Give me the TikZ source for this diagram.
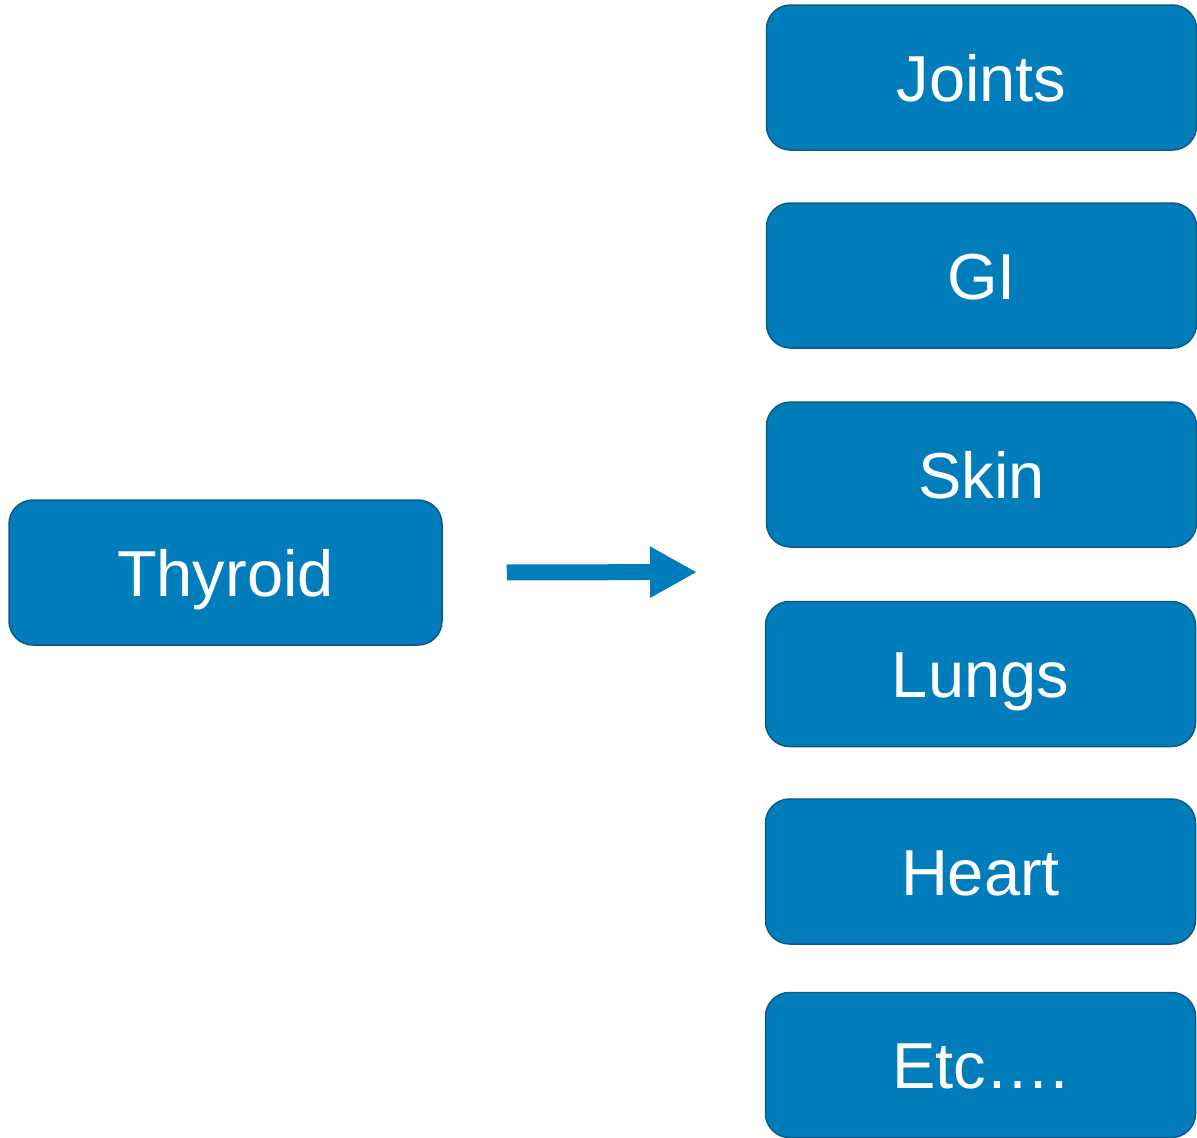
\documentclass[tikz,border=0pt]{standalone}
\usepackage{fontspec}
\setmainfont{Liberation Sans}
\usetikzlibrary{arrows.meta}
\definecolor{organblue}{HTML}{027DBC}
\definecolor{organedge}{HTML}{0E5A86}

\begin{document}
\begin{tikzpicture}[x=1pt,y=-1pt,every node/.style={rectangle,rounded corners=24pt,fill=organblue,draw=organedge,line width=1.5pt,text=white,font=\fontsize{65}{78}\selectfont,minimum height=145pt,text height=47pt,text depth=0pt,inner sep=0pt}]
  \useasboundingbox (0,0) rectangle (1197,1138);
  \node[minimum width=433pt] (thyroid) at (225.5,572.5) {Thyroid};
  \foreach \name/\organ/\x/\y in {joints/Joints/981.5/77.5,gi/GI/981.5/275.5,skin/Skin/981.5/474.5,lungs/Lungs/980.5/674,heart/Heart/980.5/871.5,etc/Etc\ldots./980.5/1065}
    \node[minimum width=430pt] (\name) at (\x,\y) {\organ};
  \coordinate (organs) at (766,572);
  \draw[organblue,line width=16pt,-{Triangle[length=47pt,width=48pt]},shorten <=64pt,shorten >=69pt] (thyroid.east) -- (organs);
\end{tikzpicture}
\end{document}
